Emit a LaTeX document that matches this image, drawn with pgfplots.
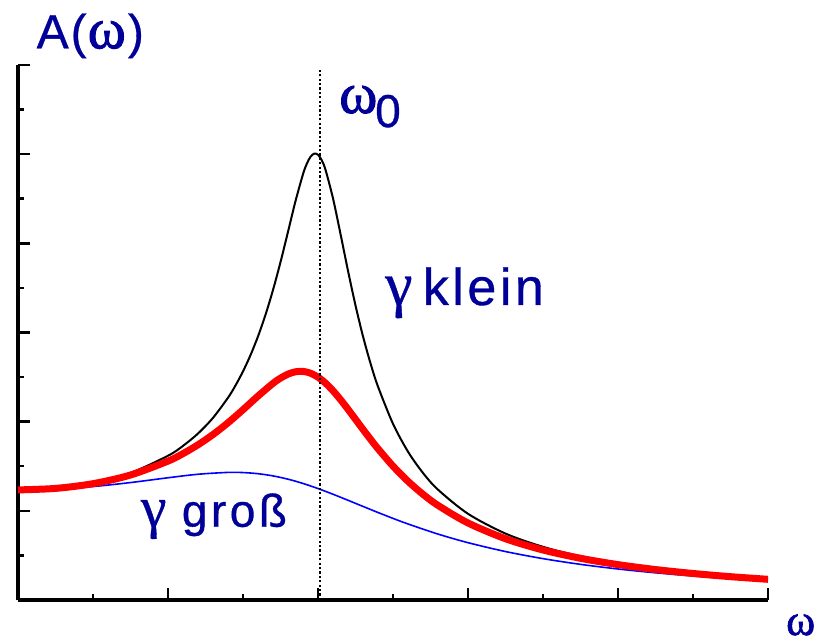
\documentclass[border=0pt]{standalone}
\usepackage{pgfplots}
\pgfplotsset{compat=1.18}
\usepackage{fontspec}
\setmainfont{Liberation Sans}[FakeBold=0.7]
\newfontfamily\gr{Liberation Serif}[FakeBold=0.6]
\newfontfamily\grb{Liberation Serif}[FakeBold=1.5]
\definecolor{navy}{RGB}{0,0,153}
\begin{document}
\begin{tikzpicture}
\useasboundingbox (-18bp,-43bp) rectangle (804bp,600bp);
\begin{axis}[
  at={(0,0)}, anchor=south west,
  scale only axis, width=750bp, height=535bp,
  xmin=0, xmax=5, ymin=0, ymax=6,
  axis x line=bottom, axis y line=left,
  axis line style={line width=3.5bp, -},
  xtick={0,1,2,3,4,5}, ytick={0,1,2,3,4,5,6}, minor tick num=1,
  xticklabels={}, yticklabels={},
  tick align=inside,
  major tick length=12bp, minor tick length=6bp,
  tick style={line width=2.5bp, black},
  clip=false,
]
% gamma gross
\addplot[color={rgb,255:red,0;green,0;blue,255}, line width=1.6bp, smooth] coordinates {
(0,1.2346)(0.25,1.2442)(0.5,1.2725)(0.75,1.3170)(1.0,1.3709)(1.2,1.4102)(1.4,1.4310)(1.5,1.4292)(1.6,1.4165)(1.7,1.3918)(1.8,1.3550)(1.9,1.3071)(2.0,1.2499)(2.1,1.1861)(2.2,1.1185)(2.3,1.0495)(2.4,0.9813)(2.5,0.9153)(2.6,0.8527)(2.8,0.7394)(3.0,0.6428)(3.25,0.5434)(3.5,0.4638)(3.75,0.3997)(4.0,0.3477)(4.25,0.3051)(4.5,0.2698)(4.75,0.2403)(5.0,0.2154)
};
% gamma klein
\addplot[black, line width=2bp, smooth] coordinates {
(0,1.2346)(0.25,1.2533)(0.5,1.3130)(0.75,1.4255)(1.0,1.6178)(1.1,1.7285)(1.2,1.8670)(1.3,2.0426)(1.4,2.2685)(1.45,2.4061)(1.5,2.5641)(1.55,2.7462)(1.6,2.9565)(1.65,3.1990)(1.7,3.4768)(1.75,3.7896)(1.8,4.1294)(1.85,4.4732)(1.9,4.7757)(1.925,4.8912)(1.95,4.9706)(1.975,5.0063)(2.0,4.9938)(2.025,4.9321)(2.05,4.8249)(2.1,4.5045)(2.15,4.1053)(2.2,3.6920)(2.25,3.3035)(2.3,2.9565)(2.35,2.6542)(2.4,2.3934)(2.5,1.9760)(2.6,1.6635)(2.7,1.4245)(2.8,1.2375)(3.0,0.9667)(3.25,0.7449)(3.5,0.5963)(3.75,0.4908)(4.0,0.4127)(4.25,0.3528)(4.5,0.3057)(4.75,0.2679)(5.0,0.2370)
};
% gamma mittel
\addplot[color={rgb,255:red,255;green,0;blue,0}, line width=7bp, smooth] coordinates {
(0,1.2346)(0.25,1.2515)(0.5,1.3045)(0.75,1.4016)(1.0,1.5577)(1.1,1.6417)(1.2,1.7406)(1.3,1.8557)(1.4,1.9876)(1.5,2.1339)(1.6,2.2869)(1.7,2.4295)(1.75,2.4883)(1.8,2.5331)(1.85,2.5595)(1.9,2.5638)(1.95,2.5437)(2.0,2.4992)(2.05,2.4323)(2.1,2.3467)(2.15,2.2473)(2.2,2.1390)(2.25,2.0265)(2.3,1.9135)(2.35,1.8030)(2.4,1.6967)(2.5,1.5014)(2.6,1.3314)(2.7,1.1855)(2.8,1.0611)(3.0,0.8638)(3.25,0.6870)(3.5,0.5608)(3.75,0.4677)(4.0,0.3968)(4.25,0.3415)(4.5,0.2974)(4.75,0.2616)(5.0,0.2321)
};
% omega_0
\addplot[black, line width=2.2bp, dash pattern=on 2.2bp off 2.2bp] coordinates {(2.015,0) (2.015,5.96)};
\end{axis}
\begin{scope}[every node/.style={inner sep=0pt, anchor=base west, text=navy}]
\node at (18.5bp,551.7bp) {\fontsize{48bp}{48bp}\selectfont A\kern2bp(\kern1bp{\fontsize{58bp}{58bp}\selectfont\grb ω}\kern2bp)};
\node at (321bp,487bp) {\fontsize{58bp}{58bp}\selectfont\grb ω};
\node at (357bp,473bp) {\fontsize{46bp}{46bp}\selectfont 0};
\node at (367bp,295bp) {\fontsize{62bp}{62bp}\selectfont\gr γ};
\node at (404.7bp,295bp) {\fontsize{52bp}{52bp}\selectfont k\kern3.5bp l\kern3.5bp e\kern3.5bp i\kern3.5bp n};
\node at (122.7bp,73.3bp) {\fontsize{58bp}{58bp}\selectfont\gr γ};
\node at (163.7bp,73.3bp) {\fontsize{46bp}{46bp}\selectfont g\kern3.5bp r\kern3.5bp o\kern3.5bp ß};
\node at (768bp,-35bp) {\fontsize{44bp}{44bp}\selectfont\grb ω};
\end{scope}
\end{tikzpicture}
\end{document}
